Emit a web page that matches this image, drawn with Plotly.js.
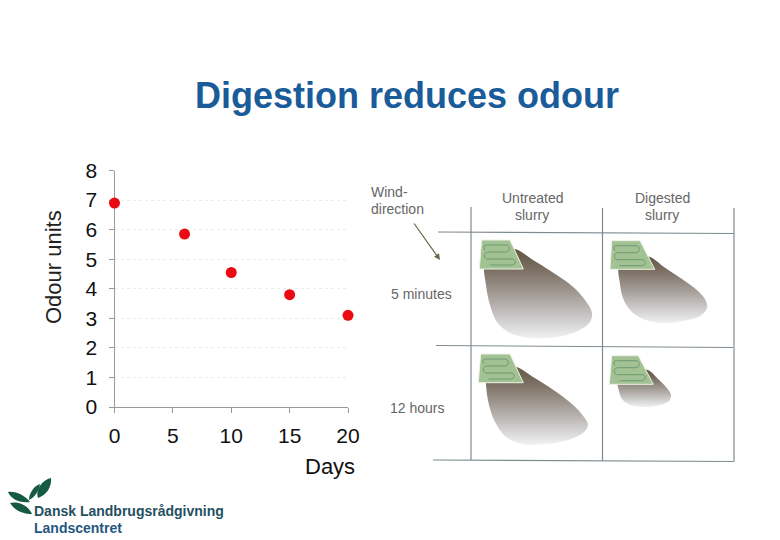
<!DOCTYPE html>
<html><head><meta charset="utf-8">
<script src="https://cdn.plot.ly/plotly-3.0.1.min.js"></script>
<style>html,body{margin:0;padding:0;background:#fff}</style></head>
<body><div id="chart" style="width:780px;height:540px"></div>
<script>
const days = [0, 6, 10, 15, 20];
const odourUnits = [6.9, 5.85, 4.55, 3.8, 3.1];
const xTicks = [0, 5, 10, 15, 20];
const yTicks = [0, 1, 2, 3, 4, 5, 6, 7, 8];
const titleText = 'Digestion reduces odour';
const plumeUntreated5mX = [515,533,552,572,585,592,590,578,557,530,510,497,490,486,485,500,515];
const plumeUntreated5mY = [249,260,272,286,300,313,322,331,337,338,333,322,305,285,262,250,249];
const plumeDigested5mX = [650,664,682,698,706,707,700,683,662,643,630,623,620,619,630,650];
const plumeDigested5mY = [257,267,279,291,301,308,316,321,323,319,310,298,284,265,255,257];
const plumeUntreated12hX = [517,533,552,572,584,588,583,568,545,522,505,495,489,486,486,500,517];
const plumeUntreated12hY = [367,377,389,404,417,425,433,440,444,444,436,422,405,385,370,365,367];
const plumeDigested12hX = [648,657,666,671,669,660,645,630,622,619,618,630,648];
const plumeDigested12hY = [370,378,387,395,401,405,407,405,399,391,380,370,370];
const fieldCorners = [
  [[481.7,240],[510,240],[523.3,269],[479.3,269]],
  [[611.7,240.7],[640,240.7],[654.7,269.3],[610,269.3]],
  [[480.7,354],[510,354],[523.3,382.7],[478.3,382.7]],
  [[611.7,355.7],[638.3,355.7],[653.3,384.3],[609.3,384.3]]
];
const GREY = '#7f8b90', TXT = '#666666';

function plume(x, y) {
  return {x, y, xaxis:'x2', yaxis:'y2', mode:'lines', type:'scatter', hoverinfo:'skip',
    line:{shape:'spline', width:0, smoothing:1, color:'rgba(0,0,0,0)'}, fill:'toself',
    fillgradient:{type:'vertical', start:Math.min(...y), stop:Math.max(...y),
      colorscale:[[0,'#62543f'],[0.25,'#7d7266'],[0.5,'#a29a94'],[0.75,'#c8c5c5'],[1,'#f0f0f2']]}};
}
const traces = [
  plume(plumeUntreated5mX, plumeUntreated5mY),
  plume(plumeDigested5mX, plumeDigested5mY),
  plume(plumeUntreated12hX, plumeUntreated12hY),
  plume(plumeDigested12hX, plumeDigested12hY),
  {x:days, y:odourUnits, mode:'markers', type:'scatter', cliponaxis:false,
   marker:{color:'#ec0a12', size:11}, hoverinfo:'skip'}
];

function seg(x0,y0,x1,y1,w){return {type:'line',xref:'x2',yref:'y2',x0,y0,x1,y1,line:{color:GREY,width:w||1.2}};}
const shapes = [
  seg(471,207,471,460), seg(602.5,208,602.5,461), seg(734,208,734,462),
  seg(438,232,734,233.5), seg(436,345.5,733,347.5), seg(433,460,733,461.5)
];
fieldCorners.forEach(c=>{
  shapes.push({type:'path',xref:'x2',yref:'y2',
    path:`M${c[0][0]},${c[0][1]} L${c[1][0]},${c[1][1]} L${c[2][0]},${c[2][1]} L${c[3][0]},${c[3][1]} Z`,
    fillcolor:'#a2c294', line:{color:'#eef2e6',width:1}});
  const x=c[0][0], y=c[0][1];
  shapes.push({type:'path',xref:'x2',yref:'y2',
    path:`M${x+3},${y+10} C${x+1},${y+5} ${x+3},${y+5} ${x+6},${y+5} L${x+25},${y+5} C${x+29},${y+6} ${x+28},${y+12} ${x+24},${y+12} L${x+6},${y+12} C${x+1},${y+13} ${x+2},${y+19} ${x+6},${y+19} L${x+31},${y+19} C${x+35},${y+20} ${x+34},${y+25} ${x+30},${y+25} L${x+8},${y+25}`,
    line:{color:'#5f8f68',width:0.8}});
});
const leaves = [
  'M8,492 C13,491 23,493 30,502 C22,503 12,501 8,492 Z',
  'M10,503 C18,501 28,505 32,514 C23,514 15,511 10,503 Z',
  'M29,500 C29,493 34,486 40,484 C39,491 35,497 29,500 Z',
  'M38,498 C35,490 42,480 51,478 C52,486 47,495 38,498 Z'
];
leaves.forEach(p=>shapes.push({type:'path',xref:'x2',yref:'y2',path:p,fillcolor:'#165a44',line:{width:0}}));

function note(text,x,y,o){return Object.assign({text,x,y,xref:'x2',yref:'y2',showarrow:false,
  xanchor:'center',yanchor:'middle',font:{family:'Liberation Sans',size:14,color:TXT}},o||{});}
const annotations = [
  note('Days',330,466,{font:{family:'Liberation Sans',size:22,color:'#111'}}),
  note('Odour units',53,267,{textangle:-90,font:{family:'Liberation Sans',size:22,color:'#222'}}),
  note('Wind-',369,192,{xanchor:'left'}),
  note('direction',369,209,{xanchor:'left'}),
  note('Untreated',532,198), note('slurry',532,215),
  note('Digested',662,198), note('slurry',662,215),
  note('5 minutes',421,294), note('12 hours',417,408),
  note('Dansk Landbrugsrådgivning',32,511,{xanchor:'left',font:{family:'Liberation Sans',size:14,color:'#24505f',weight:'bold'}}),
  note('Landscentret',32,528,{xanchor:'left',font:{family:'Liberation Sans',size:14,color:'#255682',weight:'bold'}}),
  {x:440,y:260,ax:413,ay:222,xref:'x2',yref:'y2',axref:'x2',ayref:'y2',text:'',showarrow:true,
   arrowhead:2,arrowsize:1,arrowwidth:1.2,arrowcolor:'#6a6548'}
];

const layout = {
  width:780, height:540, showlegend:false, paper_bgcolor:'#fff', plot_bgcolor:'rgba(0,0,0,0)',
  margin:{l:0,r:0,t:0,b:0},
  title:{text:titleText, x:407/780, xanchor:'center', y:1-95/540, yanchor:'middle',
    font:{family:'Liberation Sans',size:36,color:'#1a5c99',weight:'bold'}},
  xaxis:{domain:[114.5/780,348/780], anchor:'y', range:[0,20], tickvals:xTicks, ticks:'outside', ticklen:5,
    tickcolor:'#9a9a9a', showline:true, linecolor:'#9a9a9a', showgrid:false, zeroline:false, layer:'below traces',
    ticklabelstandoff:5, tickfont:{family:'Liberation Sans',size:21,color:'#111'}},
  yaxis:{domain:[1-407/540,1-170.5/540], anchor:'x', range:[0,8], tickvals:yTicks, ticks:'outside', ticklen:5,
    tickcolor:'#9a9a9a', showline:true, linecolor:'#9a9a9a', gridcolor:'#ececec', griddash:'dot', gridwidth:1, zeroline:false, layer:'below traces',
    ticklabelstandoff:7, tickfont:{family:'Liberation Sans',size:21,color:'#111'}},
  xaxis2:{domain:[0,1], anchor:'y2', range:[0,780], visible:false},
  yaxis2:{domain:[0,1], anchor:'x2', range:[540,0], visible:false},
  shapes, annotations
};
Plotly.newPlot('chart', traces, layout, {displayModeBar:false, staticPlot:true});
</script></body></html>
